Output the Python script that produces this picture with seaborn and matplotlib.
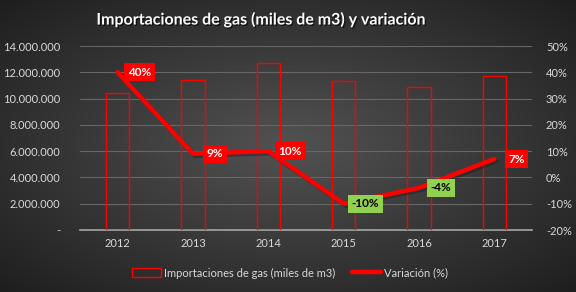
import numpy as np
import pandas as pd
import matplotlib
matplotlib.use("Agg")
import matplotlib.pyplot as plt
import matplotlib.patheffects as pe
from matplotlib.lines import Line2D
from matplotlib.patches import Patch
import seaborn as sns

years = ["2012", "2013", "2014", "2015", "2016", "2017"]
imports = [10400000, 11400000, 12700000, 11300000, 10850000, 11700000]
variation = [0.40, 0.09, 0.10, -0.10, -0.04, 0.07]
var_labels = ["40%", "9%", "10%", "-10%", "-4%", "7%"]
left_ticks = [0, 2000000, 4000000, 6000000, 8000000, 10000000, 12000000, 14000000]
left_tick_labels = ["-", "2.000.000", "4.000.000", "6.000.000", "8.000.000",
                    "10.000.000", "12.000.000", "14.000.000"]
right_ticks = [-0.2, -0.1, 0.0, 0.1, 0.2, 0.3, 0.4, 0.5]
right_tick_labels = ["-20%", "-10%", "0%", "10%", "20%", "30%", "40%", "50%"]

sns.set_theme(style="dark")
plt.rcParams["font.family"] = ["Lato", "DejaVu Sans"]

df = pd.DataFrame({"year": years, "imports": imports, "variation": variation,
                   "pos": np.arange(len(years))})

W, H = 576, 292
fig = plt.figure(figsize=(W / 100, H / 100), dpi=100)

# background radial gradient
bg = fig.add_axes([0, 0, 1, 1], zorder=-10)
yy, xx = np.mgrid[0:1:200j, 0:1:400j]
r = np.sqrt(((xx - 0.5) / 0.75) ** 2 + ((yy - 0.5) / 0.75) ** 2)
r = np.clip(r / 0.95, 0, 1)
c0 = np.array([0x52, 0x52, 0x52]) / 255
c1 = np.array([0x1e, 0x1e, 0x1e]) / 255
img = c0[None, None, :] * (1 - r[..., None]) + c1[None, None, :] * r[..., None]
bg.imshow(img, aspect="auto", extent=[0, 1, 0, 1])
bg.axis("off")

ax = fig.add_axes([80 / W, 1 - 230 / H, 452 / W, 184 / H])
ax.set_facecolor("none")
sns.barplot(data=df, x="year", y="imports", ax=ax, fill=False, color="#ff0000",
            width=0.31, linewidth=1.0, zorder=3)
ax.set_ylim(0, 14000000)
ax.set_yticks(left_ticks)
ax.set_yticklabels(left_tick_labels)
ax.grid(axis="y", color="#676767", linewidth=0.8, zorder=0)
ax.grid(axis="x", visible=False)
ax.set_xlabel("")
ax.set_ylabel("")
for s in ["top", "right", "left"]:
    ax.spines[s].set_visible(False)
ax.spines["bottom"].set_color("#a6a6a6")
ax.spines["bottom"].set_linewidth(1.2)
ax.tick_params(axis="both", colors="#d9d9d9", labelsize=8, length=0)
ax.tick_params(axis="y", pad=14)
ax.tick_params(axis="x", pad=6)

ax2 = ax.twinx()
sns.lineplot(data=df, x="pos", y="variation", ax=ax2, color="#ff0000",
             linewidth=3.2, zorder=5,
             path_effects=[pe.SimpleLineShadow(offset=(1.5, -1.5), alpha=0.4),
                           pe.Normal()])
ax2.set_ylim(-0.2, 0.5)
ax2.set_xlim(-0.5, 5.5)
ax2.set_yticks(right_ticks)
ax2.set_yticklabels(right_tick_labels)
ax2.set_ylabel("")
ax2.set_xlabel("")
ax2.grid(False)
for s in ["top", "right", "left", "bottom"]:
    ax2.spines[s].set_visible(False)
ax2.tick_params(axis="y", colors="#d9d9d9", labelsize=8, length=0, pad=10)

for xpos, v, lab in zip(df["pos"], variation, var_labels):
    if v >= 0:
        fc, tc = "#ff0000", "white"
    else:
        fc, tc = "#92d050", "black"
    ax2.annotate(lab, (xpos, v), xytext=(22, 0), textcoords="offset pixels",
                 ha="center", va="center", fontsize=8.5, fontweight="bold",
                 color=tc, zorder=6,
                 bbox=dict(boxstyle="square,pad=0.3", fc=fc, ec="none"))

fig.text(261 / W, 1 - 20 / H, "Importaciones de gas (miles de m3) y variación",
         ha="center", va="center", fontsize=11.5, fontweight="bold", color="white",
         path_effects=[pe.withSimplePatchShadow(offset=(1, -1), shadow_rgbFace="black", alpha=0.6)])

handles = [Patch(facecolor="none", edgecolor="#ff0000", linewidth=1.0),
           Line2D([0], [0], color="#ff0000", linewidth=3.2)]
fig.legend(handles, ["Importaciones de gas (miles de m3)", "Variación (%)"],
           loc="center", bbox_to_anchor=(290 / W, 1 - 273 / H), ncol=2, frameon=False,
           fontsize=8, labelcolor="#d9d9d9", handlelength=2.6, handleheight=0.8,
           columnspacing=1.5, handletextpad=0.3)

fig.savefig("out.png", dpi=100)
